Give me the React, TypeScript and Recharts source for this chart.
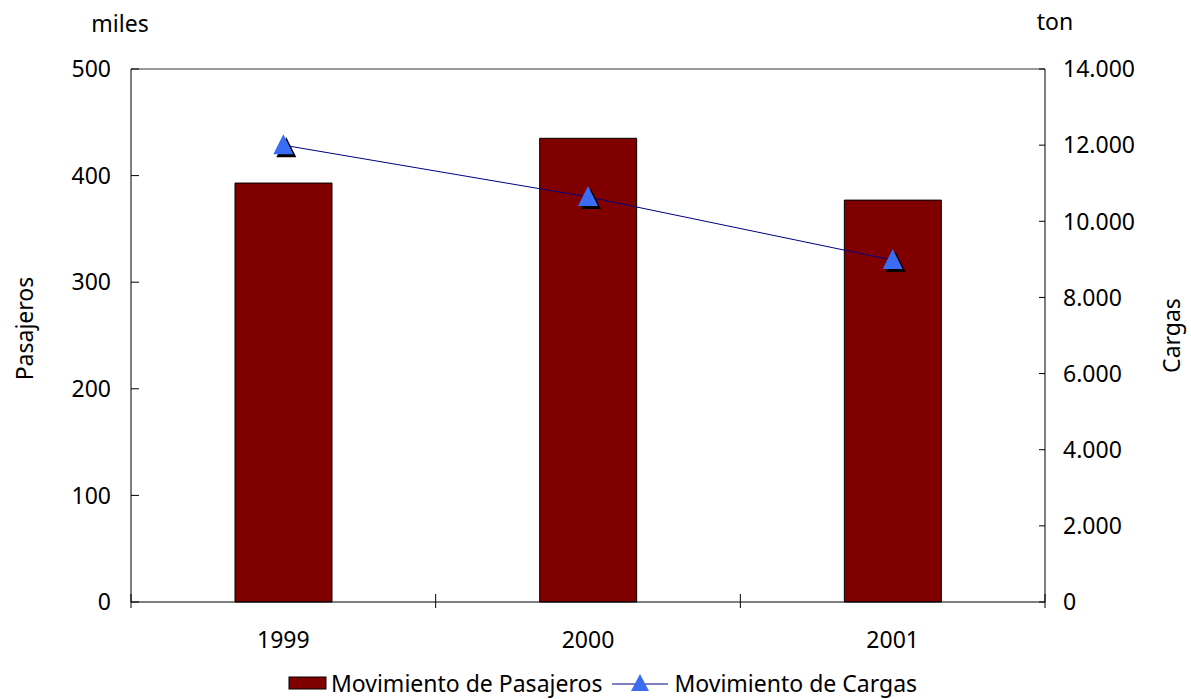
import { ComposedChart, Bar, Line, XAxis, YAxis, Legend, CartesianGrid } from 'recharts';

const years = ['1999', '2000', '2001'];
const pasajeros = [393, 435, 377];
const cargas = [12000, 10640, 8980];
const leftTicks = [0, 100, 200, 300, 400, 500];
const rightTicks = [0, 2000, 4000, 6000, 8000, 10000, 12000, 14000];

const data = years.map((year, i) => ({ year, pasajeros: pasajeros[i], cargas: cargas[i] }));

const FONT = '"Noto Sans", sans-serif';
const FS = 23;

const fmtThousands = (v: number) => String(v).replace(/\B(?=(\d{3})+(?!\d))/g, '.');

const XTick = (props: any) => {
  const { x, y, payload, index } = props;
  const half = payload && payload.offset != null ? payload.offset : 152;
  return (
    <g>
      <line x1={x - half} x2={x - half} y1={y - 8} y2={y + 6} stroke="#000" />
      {index === years.length - 1 && (
        <line x1={x + half} x2={x + half} y1={y - 8} y2={y + 6} stroke="#000" />
      )}
      <text x={x} y={y + 46} textAnchor="middle" fontFamily={FONT} fontSize={FS} fill="#000">
        {payload.value}
      </text>
    </g>
  );
};

const LeftTick = (props: any) => {
  const { x, y, payload } = props;
  return (
    <g>
      <line x1={x + 20} x2={x + 28} y1={y} y2={y} stroke="#000" />
      <text x={x} y={y} dy="0.36em" textAnchor="end" fontFamily={FONT} fontSize={FS} fill="#000">
        {payload.value}
      </text>
    </g>
  );
};

const RightTick = (props: any) => {
  const { x, y, payload } = props;
  return (
    <g>
      <line x1={x - 18} x2={x - 24} y1={y} y2={y} stroke="#000" />
      <text x={x} y={y} dy="0.36em" textAnchor="start" fontFamily={FONT} fontSize={FS} fill="#000">
        {fmtThousands(payload.value)}
      </text>
    </g>
  );
};

const Triangle = (props: any) => {
  const { cx, cy, index } = props;
  if (cx == null || cy == null) return null;
  const pts = (dx: number, dy: number) =>
    `${cx + dx},${cy - 11 + dy} ${cx - 10 + dx},${cy + 9 + dy} ${cx + 10 + dx},${cy + 9 + dy}`;
  return (
    <g key={`tri-${index}`}>
      <polygon points={pts(3, 3)} fill="#000" />
      <polygon points={pts(0, 0)} fill="#3a6cf4" />
    </g>
  );
};

const LegendContent = () => (
  <div
    style={{
      display: 'flex',
      justifyContent: 'center',
      alignItems: 'center',
      fontFamily: FONT,
      fontSize: FS,
      color: '#000',
      height: 26,
      lineHeight: '26px',
      paddingLeft: 14,
    }}
  >
    <svg width={40} height={16} style={{ marginRight: 3 }}>
      <rect x={1} y={2} width={37} height={12} fill="#800000" stroke="#000" />
    </svg>
    <span>Movimiento de Pasajeros</span>
    <svg width={58} height={24} style={{ marginLeft: 10, marginRight: 4 }}>
      <line x1={0} x2={56} y1={13} y2={13} stroke="#000080" />
      <polygon points="28,3 19,20 37,20" fill="#3a6cf4" />
    </svg>
    <span>Movimiento de Cargas</span>
  </div>
);

export default function App() {
  return (
    <div style={{ position: 'absolute', left: 0, top: 0, background: '#fff' }}>
      <ComposedChart
        width={1191}
        height={699}
        data={data}
        margin={{ top: 69, right: 0, bottom: 47, left: 0 }}
      >
        <CartesianGrid
          yAxisId="left"
          vertical={false}
          stroke="#9a9a9a"
          strokeWidth={2}
          horizontalCoordinatesGenerator={(p: any) => [p.offset.top]}
        />
        <XAxis
          dataKey="year"
          height={50}
          tickSize={0}
          tickMargin={0}
          tickLine={false}
          axisLine={{ stroke: '#000' }}
          tick={<XTick />}
          interval={0}
        />
        <YAxis
          yAxisId="left"
          orientation="left"
          width={131}
          domain={[0, 500]}
          ticks={leftTicks}
          interval={0}
          tickSize={0}
          tickMargin={20}
          tickLine={false}
          axisLine={{ stroke: '#000' }}
          tick={<LeftTick />}
          label={{
            content: (p: any) => {
              const vb = p.viewBox || { x: 0, y: 69, width: 131, height: 533 };
              const lx = vb.x + 33;
              const ly = vb.y + vb.height / 2 - 7;
              return (
                <g fontFamily={FONT} fontSize={FS} fill="#000">
                  <text x={lx} y={ly} textAnchor="middle" transform={`rotate(-90, ${lx}, ${ly})`}>
                    Pasajeros
                  </text>
                  <text x={vb.x + 120} y={vb.y - 37} textAnchor="middle">
                    miles
                  </text>
                </g>
              );
            },
          }}
        />
        <YAxis
          yAxisId="right"
          orientation="right"
          width={146}
          domain={[0, 14000]}
          ticks={rightTicks}
          interval={0}
          tickSize={0}
          tickMargin={18}
          tickLine={false}
          axisLine={{ stroke: '#000' }}
          tick={<RightTick />}
          label={{
            content: (p: any) => {
              const vb = p.viewBox || { x: 1045, y: 69, width: 146, height: 533 };
              const lx = vb.x + 135;
              const ly = vb.y + vb.height / 2;
              return (
                <g fontFamily={FONT} fontSize={FS} fill="#000">
                  <text x={lx} y={ly} textAnchor="middle" transform={`rotate(-90, ${lx}, ${ly})`}>
                    Cargas
                  </text>
                  <text x={vb.x + 10} y={vb.y - 39} textAnchor="middle">
                    ton
                  </text>
                </g>
              );
            },
          }}
        />
        <Bar
          yAxisId="left"
          dataKey="pasajeros"
          name="Movimiento de Pasajeros"
          fill="#800000"
          stroke="#000"
          strokeWidth={1}
          barSize={97}
          isAnimationActive={false}
        />
        <Line
          yAxisId="right"
          dataKey="cargas"
          name="Movimiento de Cargas"
          stroke="#000080"
          strokeWidth={1}
          dot={<Triangle />}
          activeDot={false}
          isAnimationActive={false}
        />
        <Legend
          layout="horizontal"
          verticalAlign="middle"
          align="center"
          content={<LegendContent />}
          wrapperStyle={{ top: 670, left: 0, width: 1191, height: 26 }}
        />
      </ComposedChart>
    </div>
  );
}
